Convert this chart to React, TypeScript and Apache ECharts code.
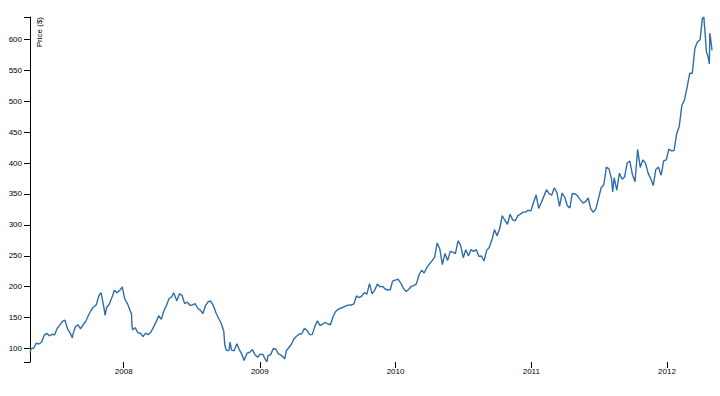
import React, { useEffect, useRef } from "react";
import * as echarts from "echarts";

const dates: string[] = [
  "2007-04-24","2007-04-27","2007-05-04","2007-05-11","2007-05-18","2007-05-25","2007-06-01","2007-06-08","2007-06-15","2007-06-22","2007-06-29",
  "2007-07-06","2007-07-13","2007-07-20","2007-07-27","2007-08-03","2007-08-10","2007-08-16","2007-08-17","2007-08-24","2007-08-31",
  "2007-09-07","2007-09-14","2007-09-21","2007-09-28","2007-10-05","2007-10-12","2007-10-19","2007-10-26","2007-10-31","2007-11-02",
  "2007-11-09","2007-11-12","2007-11-16","2007-11-23","2007-11-30","2007-12-07","2007-12-14","2007-12-21","2007-12-27","2007-12-28",
  "2008-01-04","2008-01-11","2008-01-18","2008-01-22","2008-01-23","2008-01-25","2008-02-01","2008-02-08","2008-02-15","2008-02-22","2008-02-29",
  "2008-03-07","2008-03-14","2008-03-20","2008-03-28","2008-04-04","2008-04-11","2008-04-18","2008-04-25","2008-05-02","2008-05-09","2008-05-14",
  "2008-05-16","2008-05-23","2008-05-30","2008-06-06","2008-06-13","2008-06-20","2008-06-27","2008-07-03","2008-07-11","2008-07-18","2008-07-25",
  "2008-08-01","2008-08-08","2008-08-15","2008-08-22","2008-08-29","2008-09-05","2008-09-12","2008-09-19","2008-09-26","2008-09-29",
  "2008-10-03","2008-10-10","2008-10-13","2008-10-17","2008-10-24","2008-10-31","2008-11-07","2008-11-14","2008-11-20","2008-11-21","2008-11-28",
  "2008-12-05","2008-12-12","2008-12-19","2008-12-26",
  "2009-01-02","2009-01-09","2009-01-16","2009-01-20","2009-01-23","2009-01-30","2009-02-06","2009-02-13","2009-02-20","2009-02-27",
  "2009-03-06","2009-03-09","2009-03-13","2009-03-20","2009-03-27","2009-04-03","2009-04-09","2009-04-17","2009-04-24","2009-05-01","2009-05-08",
  "2009-05-15","2009-05-22","2009-05-29","2009-06-05","2009-06-12","2009-06-19","2009-06-26","2009-07-02","2009-07-10","2009-07-17","2009-07-24",
  "2009-07-31","2009-08-07","2009-08-14","2009-08-21","2009-08-28","2009-09-04","2009-09-11","2009-09-18","2009-09-25","2009-10-02","2009-10-09",
  "2009-10-16","2009-10-23","2009-10-30","2009-11-06","2009-11-13","2009-11-20","2009-11-27","2009-12-04","2009-12-11","2009-12-18","2009-12-24","2009-12-31",
  "2010-01-08","2010-01-15","2010-01-22","2010-01-29","2010-02-05","2010-02-12","2010-02-19","2010-02-26","2010-03-05","2010-03-12","2010-03-19",
  "2010-03-26","2010-04-01","2010-04-09","2010-04-16","2010-04-23","2010-04-30","2010-05-07","2010-05-14","2010-05-21","2010-05-28","2010-06-04",
  "2010-06-11","2010-06-18","2010-06-25","2010-07-02","2010-07-09","2010-07-16","2010-07-23","2010-07-30","2010-08-06","2010-08-13","2010-08-20",
  "2010-08-27","2010-09-03","2010-09-10","2010-09-17","2010-09-24","2010-10-01","2010-10-08","2010-10-15","2010-10-22","2010-10-29","2010-11-05",
  "2010-11-12","2010-11-19","2010-11-26","2010-12-03","2010-12-10","2010-12-17","2010-12-23","2010-12-31",
  "2011-01-07","2011-01-14","2011-01-21","2011-01-28","2011-02-04","2011-02-11","2011-02-18","2011-02-25","2011-03-04","2011-03-11","2011-03-18",
  "2011-03-25","2011-04-01","2011-04-08","2011-04-15","2011-04-21","2011-04-29","2011-05-06","2011-05-13","2011-05-20","2011-05-27","2011-06-03",
  "2011-06-10","2011-06-17","2011-06-24","2011-07-01","2011-07-08","2011-07-15","2011-07-22","2011-07-29","2011-08-05","2011-08-08","2011-08-12",
  "2011-08-19","2011-08-26","2011-09-02","2011-09-09","2011-09-16","2011-09-23","2011-09-30","2011-10-07","2011-10-14","2011-10-21","2011-10-28",
  "2011-11-04","2011-11-11","2011-11-18","2011-11-25","2011-12-02","2011-12-09","2011-12-16","2011-12-23","2011-12-30",
  "2012-01-06","2012-01-13","2012-01-20","2012-01-27","2012-02-03","2012-02-10","2012-02-17","2012-02-24","2012-03-02","2012-03-09","2012-03-16",
  "2012-03-23","2012-03-30","2012-04-05","2012-04-09","2012-04-13","2012-04-16","2012-04-20","2012-04-24","2012-04-25","2012-04-27","2012-05-01"
];

const closes: number[] = [
  93.24,99.92,100.81,108.74,107.34,110.19,121.33,124.49,120.5,123.0,122.04,
  132.3,137.73,143.75,146.0,131.85,125.0,117.05,122.06,135.3,138.48,
  131.77,138.81,144.15,153.47,161.45,167.25,170.42,184.7,189.95,187.87,
  165.37,153.76,166.39,171.54,182.22,194.3,190.39,193.91,198.57,199.83,
  180.05,172.69,161.36,155.64,139.07,130.01,133.75,125.48,124.63,119.46,125.02,
  122.25,126.61,133.27,143.01,153.08,147.14,161.04,169.73,180.94,183.45,189.96,
  187.62,177.05,188.75,185.64,172.37,175.27,170.09,170.12,172.58,165.15,162.12,
  156.66,169.55,175.74,176.79,169.53,157.92,148.94,140.91,128.24,105.26,
  97.07,96.8,110.26,97.4,96.38,107.59,98.24,90.24,80.49,82.58,92.67,
  94.0,98.27,90.0,85.81,
  90.75,90.58,82.33,78.2,88.36,90.13,99.72,99.27,91.2,89.31,
  85.3,83.11,95.93,101.59,106.85,115.99,119.57,123.42,123.9,132.71,129.19,
  122.42,122.5,135.81,144.67,136.97,139.48,142.44,140.02,138.52,151.75,159.99,
  163.39,165.51,166.78,169.22,170.31,170.31,172.16,185.02,182.37,184.9,190.47,
  188.05,204.99,188.5,194.34,204.45,199.92,200.59,196.23,194.67,195.43,209.04,210.73,
  211.98,205.93,197.75,192.06,195.46,200.38,201.67,204.62,218.95,226.6,222.25,
  230.9,235.97,241.79,247.4,270.83,261.09,235.86,253.82,242.32,256.88,255.96,
  253.51,274.07,266.7,246.94,259.62,249.9,259.94,257.25,260.09,249.1,249.64,
  241.62,258.77,263.41,275.37,292.32,282.52,294.07,314.74,307.47,300.98,317.13,
  308.03,306.73,315.0,317.44,320.56,320.61,323.6,322.56,
  336.12,348.48,326.72,336.1,346.5,356.85,350.56,348.16,360.0,351.99,330.01,
  351.54,344.56,330.8,327.46,350.7,350.13,346.66,340.5,335.22,337.41,343.44,
  325.9,320.26,326.35,343.26,360.0,364.92,393.3,390.48,373.62,353.21,376.18,
  356.03,383.58,374.05,377.48,400.5,403.0,381.32,369.8,422.0,392.87,404.95,
  400.24,384.14,374.94,363.57,389.7,393.62,380.02,403.33,405.0,
  422.4,419.81,420.3,447.28,459.68,493.42,502.12,522.41,545.18,545.17,585.57,
  596.05,599.55,633.68,636.23,605.23,580.13,572.98,560.28,610.0,603.0,582.13
];

const yTickLabels: number[] = [100, 150, 200, 250, 300, 350, 400, 450, 500, 550, 600];
const xTickYears: number[] = [2008, 2009, 2010, 2011, 2012];
const yAxisTitle = "Price ($)";

function toTs(s: string): number {
  const [y, m, d] = s.split("-").map(Number);
  return Date.UTC(y, m - 1, d);
}

export default function App() {
  const ref = useRef<HTMLDivElement>(null);
  useEffect(() => {
    if (!ref.current) return;
    const chart = echarts.init(ref.current, undefined, { renderer: "svg" });
    const data = dates.map((d, i) => [toTs(d), closes[i]]);
    const xMin = toTs(dates[0]);
    const xMax = toTs(dates[dates.length - 1]);
    const yMin = Math.min(...closes);
    const yMax = Math.max(...closes);
    const yearTicks = xTickYears.map((y) => Date.UTC(y, 0, 1));
    const font = "'Liberation Sans', Arial, sans-serif";
    chart.setOption({
      animation: false,
      grid: { left: 30, right: 8, top: 17, bottom: 34, containLabel: false },
      xAxis: {
        type: "value",
        min: xMin,
        max: xMax,
        axisLine: { show: false },
        splitLine: { show: false },
        axisTick: { show: true, length: 6, customValues: yearTicks, lineStyle: { color: "#000" } },
        axisLabel: {
          customValues: yearTicks,
          formatter: (v: number) => String(new Date(v).getUTCFullYear()),
          color: "#000",
          fontSize: 8,
          fontFamily: font,
          margin: 5,
        },
      },
      yAxis: {
        type: "value",
        min: yMin,
        max: yMax,
        axisLine: { show: true, lineStyle: { color: "#000" } },
        splitLine: { show: false },
        axisTick: { show: true, length: 6, customValues: [yMin, ...yTickLabels, yMax], lineStyle: { color: "#000" } },
        axisLabel: {
          customValues: yTickLabels,
          color: "#000",
          fontSize: 8,
          fontFamily: font,
          margin: 8,
        },
      },
      graphic: [
        {
          type: "text",
          x: 35,
          y: 17,
          rotation: Math.PI / 2,
          style: {
            text: yAxisTitle,
            fill: "#000",
            fontSize: 8,
            fontFamily: font,
            align: "right",
            verticalAlign: "top",
          },
        },
      ],
      series: [
        {
          type: "line",
          data,
          showSymbol: false,
          symbol: "none",
          lineStyle: { color: "#2f6ea8", width: 1.4 },
          silent: true,
        },
      ],
    });
    return () => chart.dispose();
  }, []);
  return <div ref={ref} style={{ width: 720, height: 396, position: "absolute", left: 0, top: 0 }} />;
}
